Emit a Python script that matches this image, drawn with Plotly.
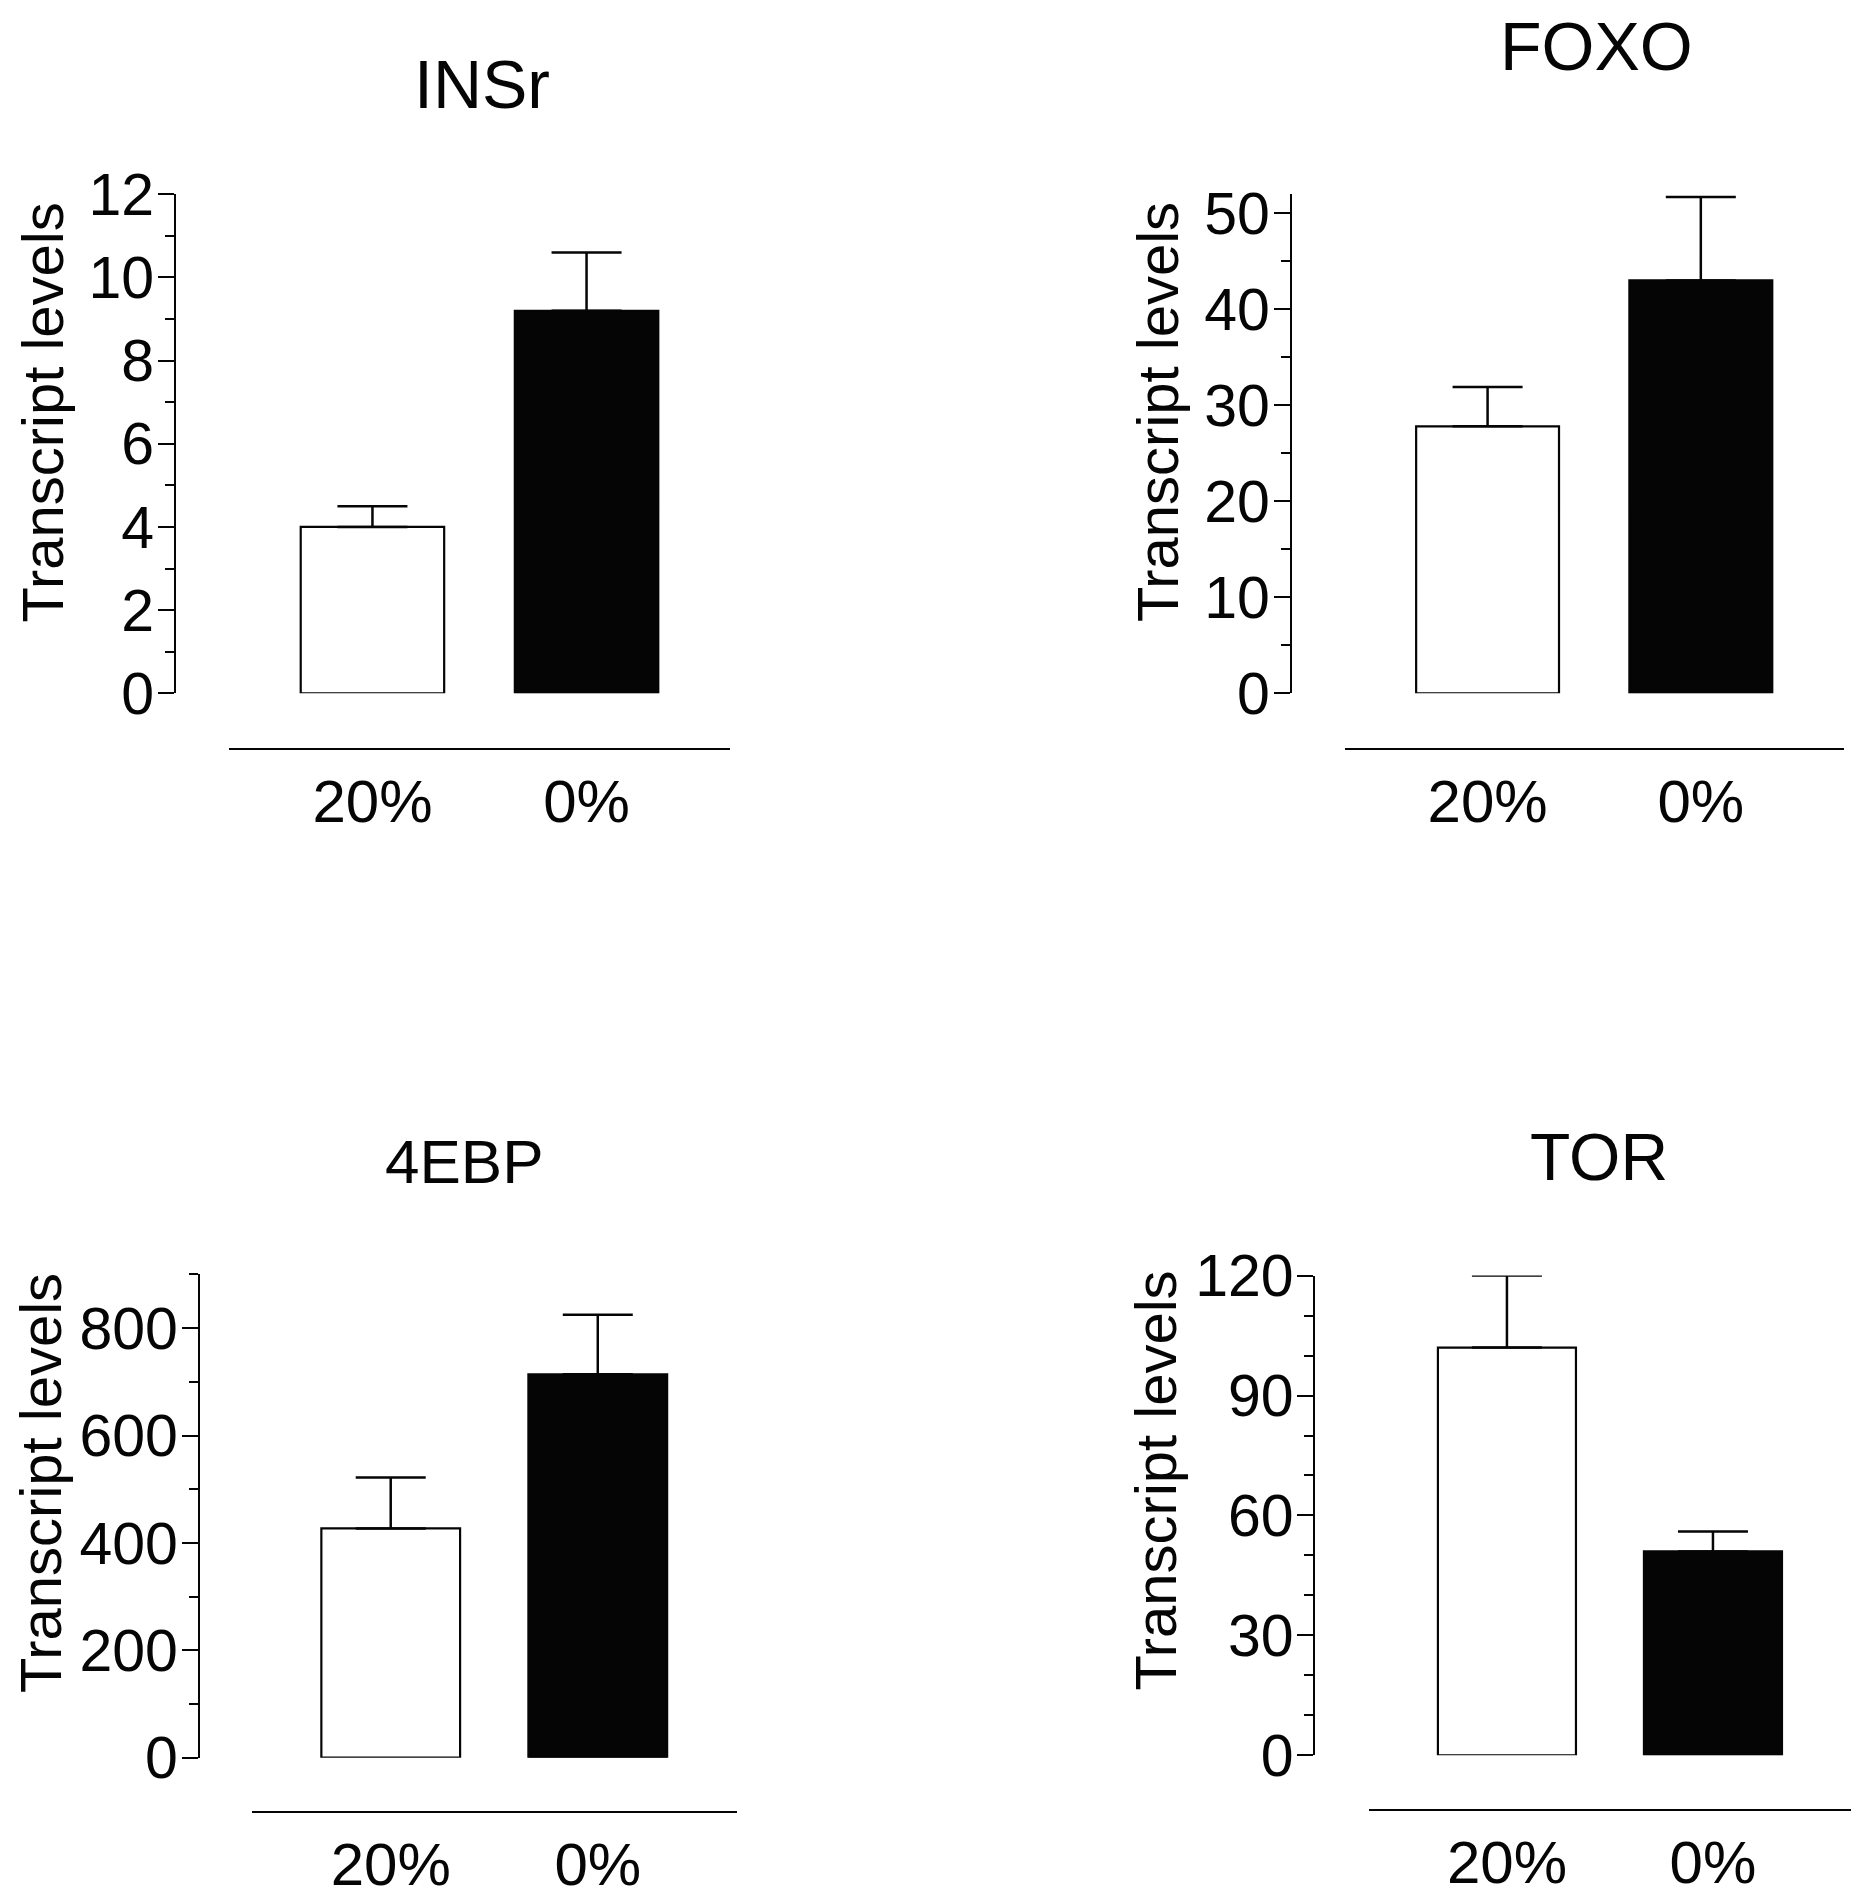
import plotly.graph_objects as go

W, H = 1868, 1899

categories = ["20%", "0%"]

insr_mean = [4.0, 9.2]
insr_err = [0.5, 1.4]
foxo_mean = [27.8, 43.0]
foxo_err = [4.1, 8.7]
ebp_mean = [427, 714]
ebp_err = [95, 111]
tor_mean = [102, 51]
tor_err = [18, 5]

y_title = "Transcript levels"

# layout geometry (pixels)
panels = [
    dict(name="INSr", mean=insr_mean, err=insr_err, yr=[0, 12], dtick=2, minor=1,
         ax_x=175, y0=693.3, ytop=194.3, xl=(229, 730), xl_y=749,
         title_xy=(482, 83.6), tsize=68, yt_xy=(42.4, 412)),
    dict(name="FOXO", mean=foxo_mean, err=foxo_err, yr=[0, 52], dtick=10, minor=5,
         ax_x=1290.7, y0=693.3, ytop=194, xl=(1344.7, 1843.7), xl_y=749,
         title_xy=(1596.6, 46), tsize=68, yt_xy=(1157, 412)),
    dict(name="4EBP", mean=ebp_mean, err=ebp_err, yr=[0, 900], dtick=200, minor=100,
         ax_x=198.7, y0=1757.7, ytop=1274.4, xl=(252, 736.5), xl_y=1812.3,
         title_xy=(464, 1161), tsize=62, yt_xy=(40, 1483)),
    dict(name="TOR", mean=tor_mean, err=tor_err, yr=[0, 120], dtick=30, minor=10,
         ax_x=1314.4, y0=1755.3, ytop=1275.6, xl=(1368.9, 1851), xl_y=1809.8,
         title_xy=(1599, 1157), tsize=66, yt_xy=(1154.5, 1481)),
]

FONT = "Liberation Sans, Arial, Helvetica, sans-serif"
BLACK = "#050505"

def px(x):
    return x / W

def py(y):
    return 1 - y / H

fig = go.Figure()
layout = dict(
    width=W, height=H, margin=dict(l=0, r=0, t=0, b=0, pad=0, autoexpand=False),
    paper_bgcolor="white", plot_bgcolor="white", showlegend=False,
    font=dict(family=FONT, color=BLACK),
)
annotations = []

for i, p in enumerate(panels, start=1):
    xa = "x" if i == 1 else f"x{i}"
    ya = "y" if i == 1 else f"y{i}"
    fig.add_trace(go.Bar(
        x=categories, y=p["mean"], xaxis=xa, yaxis=ya, width=0.67,
        marker=dict(color=["white", BLACK], line=dict(color=BLACK, width=2.2)),
        error_y=dict(type="data", symmetric=False, array=p["err"], arrayminus=[0, 0],
                     color=BLACK, thickness=2.5, width=35),
        cliponaxis=False, hoverinfo="skip",
    ))
    xkey = "xaxis" if i == 1 else f"xaxis{i}"
    ykey = "yaxis" if i == 1 else f"yaxis{i}"
    layout[xkey] = dict(
        domain=[px(p["xl"][0]), px(p["xl"][1])], anchor="free", position=py(p["xl_y"]),
        range=[-0.67, 1.67], type="category", showline=True, linecolor=BLACK, linewidth=2,
        ticks="", showgrid=False, zeroline=False, ticklabelstandoff=0, automargin=False,
        tickfont=dict(size=60, family=FONT, color=BLACK), fixedrange=True,
    )
    layout[ykey] = dict(
        domain=[py(p["y0"]), py(p["ytop"])], anchor="free", position=px(p["ax_x"]),
        range=p["yr"], showline=True, linecolor=BLACK, linewidth=2, automargin=False,
        ticks="outside", ticklen=16, tickwidth=2, tickcolor=BLACK, dtick=p["dtick"], tick0=0,
        minor=dict(dtick=p["minor"], tick0=0, ticks="outside", ticklen=9, tickwidth=2, tickcolor=BLACK),
        showgrid=False, zeroline=False, ticklabelstandoff=-8,
        tickfont=dict(size=59, family=FONT, color=BLACK), fixedrange=True,
    )
    annotations.append(dict(
        text=p["name"], xref="paper", yref="paper", x=px(p["title_xy"][0]), y=py(p["title_xy"][1]),
        xanchor="center", yanchor="middle", showarrow=False,
        font=dict(size=p["tsize"], family=FONT, color=BLACK),
    ))
    annotations.append(dict(
        text=y_title, xref="paper", yref="paper", x=px(p["yt_xy"][0]), y=py(p["yt_xy"][1]),
        xanchor="center", yanchor="middle", showarrow=False, textangle=-90,
        font=dict(size=58, family=FONT, color=BLACK),
    ))

layout["annotations"] = annotations
fig.update_layout(**layout)
fig.write_html("out.html")
